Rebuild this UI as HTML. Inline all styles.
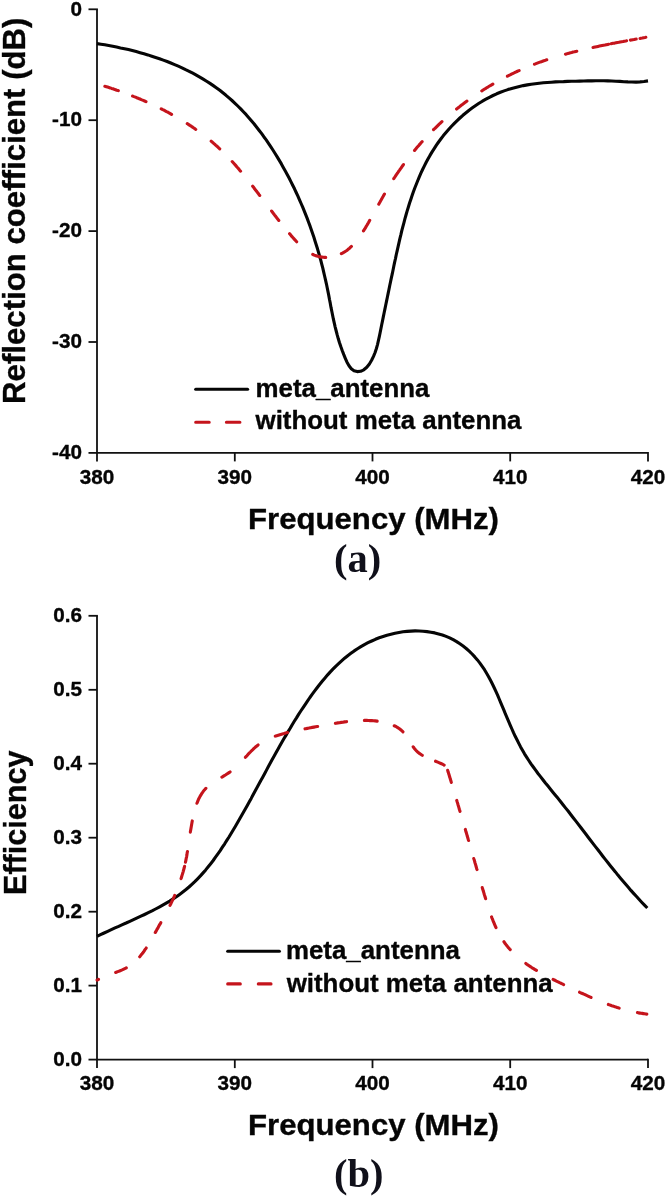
<!DOCTYPE html>
<html lang="en"><head><meta charset="utf-8"><title>Reflection coefficient and efficiency</title>
<style>html,body{margin:0;padding:0;background:#fff}body{width:666px;height:1201px;overflow:hidden}svg{display:block}</style>
</head><body>
<svg width="666" height="1201" viewBox="0 0 666 1201">
<style>
text{font-family:"Liberation Sans",Arial,Helvetica,sans-serif;font-weight:bold;fill:#050505;stroke:#050505;stroke-width:0.35px;stroke-linejoin:round}
.tk{font-size:20.7px}
.lg{font-size:26px}
.ax{font-size:30px}
.ay{font-size:30.6px}
.cap{font-family:"Liberation Serif","Times New Roman",serif;font-weight:bold;font-size:40.5px;fill:#10101a;stroke:none}
.k{fill:none;stroke:#050505;stroke-width:3.1;stroke-linejoin:round}
.r{fill:none;stroke:#c5141c;stroke-width:3.1;stroke-linecap:round;stroke-linejoin:round}
.lk{stroke-linecap:round}
</style>
<rect width="666" height="1201" fill="#fff"/>
<path d="M97.0 9.3 V452.9 H648.0" fill="none" stroke="#111" stroke-width="1.8" stroke-linejoin="miter"/>
<path d="M88.5 9.3 H97.9" stroke="#111" stroke-width="1.8"/>
<text class="tk" x="82.0" y="15.5" text-anchor="end">0</text>
<path d="M88.5 120.2 H97.0" stroke="#111" stroke-width="1.8"/>
<text class="tk" x="82.0" y="126.4" text-anchor="end">-10</text>
<path d="M88.5 231.1 H97.0" stroke="#111" stroke-width="1.8"/>
<text class="tk" x="82.0" y="237.3" text-anchor="end">-20</text>
<path d="M88.5 342.0 H97.0" stroke="#111" stroke-width="1.8"/>
<text class="tk" x="82.0" y="348.2" text-anchor="end">-30</text>
<path d="M88.5 452.9 H97.0" stroke="#111" stroke-width="1.8"/>
<text class="tk" x="82.0" y="459.1" text-anchor="end">-40</text>
<path d="M97.0 452.9 V461.4" stroke="#111" stroke-width="1.8"/>
<text class="tk" x="97.0" y="483.6" text-anchor="middle">380</text>
<path d="M234.8 452.9 V461.4" stroke="#111" stroke-width="1.8"/>
<text class="tk" x="234.8" y="483.6" text-anchor="middle">390</text>
<path d="M372.5 452.9 V461.4" stroke="#111" stroke-width="1.8"/>
<text class="tk" x="372.5" y="483.6" text-anchor="middle">400</text>
<path d="M510.2 452.9 V461.4" stroke="#111" stroke-width="1.8"/>
<text class="tk" x="510.2" y="483.6" text-anchor="middle">410</text>
<path d="M648.0 452.0 V461.4" stroke="#111" stroke-width="1.8"/>
<text class="tk" x="648.0" y="483.6" text-anchor="middle">420</text>

<path class="k" d="M97.0 43.6 L100.9 44.2 L104.8 44.8 L108.7 45.5 L112.7 46.3 L116.6 47.0 L120.5 47.9 L124.5 48.7 L128.4 49.6 L132.3 50.6 L136.2 51.6 L140.1 52.7 L144.0 53.8 L147.9 54.9 L151.8 56.2 L155.6 57.4 L159.5 58.7 L163.3 60.1 L167.1 61.5 L170.8 63.0 L174.6 64.6 L178.3 66.2 L182.0 67.8 L185.6 69.6 L189.2 71.3 L192.8 73.2 L196.3 75.1 L199.8 77.1 L203.2 79.1 L206.6 81.2 L210.0 83.4 L213.3 85.6 L216.6 87.9 L219.8 90.3 L222.9 92.8 L226.0 95.3 L229.0 97.9 L232.0 100.5 L235.0 103.3 L237.8 106.0 L240.7 108.9 L243.4 111.8 L246.2 114.7 L248.8 117.7 L251.4 120.8 L254.0 123.8 L256.5 127.0 L259.0 130.2 L261.5 133.4 L263.8 136.7 L266.2 139.9 L268.5 143.3 L270.7 146.6 L272.9 150.0 L275.1 153.5 L277.2 156.9 L279.3 160.4 L281.4 163.9 L283.3 167.4 L285.3 170.9 L287.2 174.4 L289.1 178.0 L290.9 181.6 L292.7 185.2 L294.5 188.8 L296.2 192.5 L297.9 196.1 L299.5 199.8 L301.1 203.5 L302.7 207.2 L304.2 210.9 L305.7 214.6 L307.2 218.4 L308.6 222.2 L310.0 225.9 L311.3 229.7 L312.6 233.5 L313.9 237.3 L315.1 241.2 L316.3 245.0 L317.5 248.8 L318.6 252.7 L319.7 256.5 L320.8 260.4 L321.8 264.3 L322.8 268.2 L323.7 272.1 L324.6 276.0 L325.5 279.9 L326.4 283.8 L327.2 287.7 L328.0 291.6 L328.8 295.6 L329.5 299.5 L330.3 303.4 L331.0 307.4 L331.8 311.3 L332.6 315.2 L333.4 319.2 L334.3 323.1 L335.2 327.1 L336.2 331.0 L337.2 334.9 L338.3 338.8 L339.5 342.7 L340.8 346.6 L342.2 350.5 L343.7 354.4 L345.3 358.3 L347.0 362.2 L349.0 365.7 L351.3 368.7 L354.0 370.7 L357.2 371.6 L360.6 371.3 L363.8 369.8 L366.8 367.3 L369.4 364.0 L371.6 360.3 L373.5 356.4 L375.1 352.5 L376.4 348.5 L377.5 344.6 L378.4 340.6 L379.3 336.6 L380.1 332.7 L380.9 328.7 L381.7 324.8 L382.5 320.9 L383.3 316.9 L384.1 313.0 L384.9 309.1 L385.7 305.3 L386.5 301.4 L387.3 297.5 L388.1 293.6 L388.9 289.7 L389.7 285.8 L390.5 282.0 L391.3 278.1 L392.2 274.2 L393.0 270.3 L393.8 266.3 L394.6 262.4 L395.5 258.5 L396.3 254.5 L397.2 250.6 L398.1 246.6 L399.0 242.6 L399.9 238.7 L400.9 234.7 L401.8 230.7 L402.8 226.8 L403.9 222.8 L404.9 218.9 L406.0 215.0 L407.1 211.1 L408.3 207.2 L409.5 203.3 L410.8 199.4 L412.1 195.6 L413.4 191.8 L414.8 188.0 L416.3 184.2 L417.8 180.5 L419.3 176.8 L420.9 173.1 L422.6 169.5 L424.4 165.9 L426.2 162.3 L428.1 158.8 L430.0 155.4 L432.1 151.9 L434.2 148.6 L436.4 145.2 L438.6 142.0 L441.0 138.8 L443.4 135.6 L446.0 132.5 L448.6 129.5 L451.3 126.5 L454.1 123.6 L456.9 120.8 L459.9 118.0 L462.9 115.3 L466.0 112.7 L469.1 110.2 L472.4 107.8 L475.7 105.5 L479.0 103.3 L482.4 101.2 L485.9 99.2 L489.4 97.3 L493.0 95.5 L496.7 93.8 L500.4 92.3 L504.1 90.9 L507.9 89.6 L511.7 88.4 L515.5 87.4 L519.4 86.4 L523.3 85.6 L527.3 84.9 L531.2 84.2 L535.2 83.7 L539.2 83.2 L543.3 82.8 L547.3 82.5 L551.4 82.2 L555.4 81.9 L559.5 81.7 L563.5 81.6 L567.6 81.4 L571.7 81.3 L575.7 81.2 L579.7 81.1 L583.8 81.0 L587.8 80.9 L591.8 80.9 L595.8 80.8 L599.8 80.8 L603.8 80.8 L607.8 80.9 L611.8 81.0 L615.8 81.2 L619.9 81.4 L623.9 81.7 L627.9 81.9 L631.9 82.0 L636.0 82.1 L640.0 81.9 L644.0 81.5 L648.0 80.9"/>
<path class="r" stroke-dasharray="14.2 15.2 14.6 16.8 11.8 18.2 10.3 19.4 11.5 17.8 12.8 19.3 11.6 19.6 11.9 17.1 10.7 20.5 13.5 16.2 12.5 19.7 12.3 18.5 11.7 17.9 17.1 18.0 11.6 16.6 11.6 19.4 13.0 18.0 13.0 16.6 13.0 16.6 13.1 19.5 11.7 16.7 15.9 2.5 15.8 3.9 5.9 3.9 5.9 3000.0" stroke-dashoffset="-8.1" d="M97.1 83.9 L98.4 84.2 L99.7 84.6 L101.0 85.0 L102.4 85.4 L103.7 85.8 L105.0 86.3 L106.3 86.7 L107.6 87.1 L108.9 87.5 L110.2 87.9 L111.6 88.4 L112.9 88.8 L114.2 89.3 L115.5 89.7 L116.8 90.2 L118.2 90.6 L119.5 91.1 L120.8 91.6 L122.1 92.1 L123.5 92.5 L124.8 93.0 L126.1 93.5 L127.4 94.0 L128.8 94.5 L130.1 95.0 L131.4 95.6 L132.7 96.1 L134.0 96.6 L135.4 97.1 L136.7 97.7 L138.0 98.2 L139.3 98.8 L140.6 99.3 L141.9 99.9 L143.2 100.4 L144.6 101.0 L145.9 101.6 L147.2 102.2 L148.5 102.7 L149.8 103.3 L151.1 103.9 L152.4 104.5 L153.7 105.2 L155.0 105.8 L156.3 106.4 L157.6 107.0 L158.8 107.6 L160.1 108.3 L161.4 108.9 L162.7 109.6 L164.0 110.2 L165.2 110.9 L166.5 111.6 L167.8 112.2 L169.0 112.9 L170.3 113.6 L171.5 114.3 L172.8 115.0 L174.0 115.7 L175.3 116.4 L176.5 117.1 L177.8 117.8 L179.0 118.5 L180.2 119.3 L181.4 120.0 L182.7 120.8 L183.9 121.5 L185.1 122.3 L186.3 123.0 L187.5 123.8 L188.7 124.6 L189.9 125.4 L191.1 126.1 L192.2 126.9 L193.4 127.7 L194.6 128.5 L195.7 129.4 L196.9 130.2 L198.1 131.0 L199.2 131.8 L200.3 132.7 L201.5 133.5 L202.6 134.4 L203.7 135.2 L204.8 136.1 L205.9 136.9 L207.1 137.8 L208.1 138.7 L209.2 139.6 L210.3 140.5 L211.4 141.4 L212.5 142.3 L213.5 143.2 L214.6 144.1 L215.6 145.1 L216.7 146.0 L217.7 146.9 L218.7 147.9 L219.7 148.8 L220.7 149.8 L221.7 150.8 L222.7 151.7 L223.7 152.7 L224.7 153.7 L225.7 154.7 L226.7 155.7 L227.6 156.7 L228.6 157.7 L229.5 158.7 L230.5 159.7 L231.4 160.7 L232.4 161.8 L233.3 162.8 L234.2 163.8 L235.2 164.9 L236.1 165.9 L237.0 167.0 L237.9 168.0 L238.8 169.1 L239.7 170.2 L240.6 171.2 L241.5 172.3 L242.4 173.4 L243.3 174.4 L244.2 175.5 L245.1 176.6 L245.9 177.7 L246.8 178.8 L247.7 179.9 L248.6 181.0 L249.4 182.1 L250.3 183.2 L251.2 184.3 L252.0 185.4 L252.9 186.5 L253.8 187.6 L254.6 188.8 L255.5 189.9 L256.4 191.0 L257.2 192.1 L258.1 193.3 L258.9 194.4 L259.8 195.5 L260.6 196.6 L261.5 197.8 L262.4 198.9 L263.2 200.0 L264.1 201.2 L264.9 202.3 L265.8 203.4 L266.7 204.6 L267.5 205.7 L268.4 206.9 L269.3 208.0 L270.1 209.1 L271.0 210.3 L271.9 211.4 L272.7 212.6 L273.6 213.7 L274.5 214.9 L275.4 216.0 L276.2 217.1 L277.1 218.3 L278.0 219.4 L278.9 220.6 L279.8 221.7 L280.7 222.8 L281.6 224.0 L282.5 225.1 L283.4 226.2 L284.3 227.4 L285.3 228.5 L286.2 229.6 L287.1 230.8 L288.1 231.9 L289.0 233.0 L289.9 234.1 L290.9 235.3 L291.8 236.4 L292.8 237.5 L293.8 238.6 L294.7 239.7 L295.7 240.7 L296.7 241.8 L297.7 242.9 L298.7 243.9 L299.8 244.9 L300.8 245.9 L301.8 246.8 L302.9 247.8 L304.0 248.7 L305.0 249.5 L306.1 250.4 L307.2 251.2 L308.4 251.9 L309.5 252.6 L310.7 253.3 L311.8 253.9 L313.0 254.5 L314.2 255.1 L315.4 255.5 L316.7 256.0 L318.0 256.3 L319.2 256.7 L320.5 256.9 L321.9 257.1 L323.2 257.3 L324.5 257.4 L325.9 257.4 L327.3 257.3 L328.6 257.3 L330.0 257.1 L331.4 256.9 L332.7 256.7 L334.1 256.4 L335.4 256.0 L336.7 255.6 L338.0 255.2 L339.3 254.7 L340.5 254.1 L341.8 253.5 L342.9 252.9 L344.1 252.2 L345.2 251.5 L346.4 250.7 L347.5 249.9 L348.5 249.0 L349.6 248.2 L350.6 247.2 L351.6 246.3 L352.6 245.3 L353.5 244.3 L354.5 243.3 L355.4 242.2 L356.3 241.1 L357.2 240.0 L358.1 238.9 L358.9 237.7 L359.8 236.5 L360.6 235.4 L361.4 234.1 L362.2 232.9 L363.0 231.7 L363.8 230.4 L364.6 229.2 L365.4 227.9 L366.1 226.6 L366.9 225.3 L367.6 224.1 L368.4 222.8 L369.1 221.5 L369.8 220.2 L370.5 218.9 L371.3 217.6 L372.0 216.3 L372.7 215.1 L373.4 213.8 L374.1 212.5 L374.8 211.3 L375.5 210.0 L376.2 208.7 L376.9 207.5 L377.6 206.2 L378.3 205.0 L379.0 203.7 L379.7 202.5 L380.4 201.2 L381.1 200.0 L381.8 198.7 L382.5 197.5 L383.2 196.3 L383.9 195.0 L384.6 193.8 L385.3 192.6 L386.0 191.4 L386.7 190.2 L387.5 189.0 L388.2 187.8 L388.9 186.5 L389.6 185.3 L390.4 184.2 L391.1 183.0 L391.8 181.8 L392.6 180.6 L393.3 179.4 L394.1 178.2 L394.9 177.0 L395.6 175.9 L396.4 174.7 L397.2 173.5 L398.0 172.4 L398.8 171.2 L399.6 170.1 L400.4 168.9 L401.2 167.8 L402.0 166.6 L402.8 165.5 L403.6 164.4 L404.5 163.2 L405.3 162.1 L406.2 161.0 L407.0 159.9 L407.9 158.7 L408.7 157.6 L409.6 156.5 L410.5 155.4 L411.3 154.3 L412.2 153.2 L413.1 152.1 L414.0 151.1 L414.9 150.0 L415.8 148.9 L416.7 147.8 L417.6 146.8 L418.6 145.7 L419.5 144.6 L420.4 143.6 L421.3 142.5 L422.3 141.5 L423.2 140.4 L424.2 139.4 L425.1 138.4 L426.1 137.3 L427.1 136.3 L428.0 135.3 L429.0 134.3 L430.0 133.2 L431.0 132.2 L432.0 131.2 L433.0 130.2 L434.0 129.2 L435.0 128.3 L436.0 127.3 L437.0 126.3 L438.0 125.3 L439.0 124.3 L440.1 123.4 L441.1 122.4 L442.1 121.5 L443.2 120.5 L444.2 119.6 L445.3 118.6 L446.3 117.7 L447.4 116.8 L448.4 115.8 L449.5 114.9 L450.6 114.0 L451.7 113.1 L452.8 112.2 L453.8 111.3 L454.9 110.4 L456.0 109.5 L457.1 108.6 L458.2 107.7 L459.3 106.9 L460.4 106.0 L461.6 105.1 L462.7 104.3 L463.8 103.4 L464.9 102.6 L466.1 101.7 L467.2 100.9 L468.4 100.1 L469.5 99.2 L470.6 98.4 L471.8 97.6 L473.0 96.8 L474.1 96.0 L475.3 95.2 L476.5 94.4 L477.6 93.6 L478.8 92.8 L480.0 92.0 L481.2 91.3 L482.4 90.5 L483.5 89.8 L484.7 89.0 L485.9 88.3 L487.1 87.5 L488.3 86.8 L489.6 86.0 L490.8 85.3 L492.0 84.6 L493.2 83.9 L494.4 83.2 L495.7 82.5 L496.9 81.8 L498.1 81.1 L499.4 80.4 L500.6 79.7 L501.8 79.1 L503.1 78.4 L504.3 77.8 L505.6 77.1 L506.8 76.5 L508.1 75.8 L509.4 75.2 L510.6 74.6 L511.9 73.9 L513.2 73.3 L514.5 72.7 L515.7 72.1 L517.0 71.5 L518.3 70.9 L519.6 70.4 L520.9 69.8 L522.2 69.2 L523.5 68.7 L524.8 68.1 L526.1 67.6 L527.4 67.0 L528.7 66.5 L530.0 65.9 L531.3 65.4 L532.6 64.9 L533.9 64.4 L535.3 63.9 L536.6 63.4 L537.9 62.9 L539.2 62.4 L540.6 61.9 L541.9 61.5 L543.2 61.0 L544.6 60.6 L545.9 60.1 L547.3 59.7 L548.6 59.2 L550.0 58.8 L551.3 58.3 L552.7 57.9 L554.0 57.5 L555.4 57.1 L556.7 56.7 L558.1 56.3 L559.4 55.9 L560.8 55.5 L562.2 55.1 L563.5 54.7 L564.9 54.3 L566.3 53.9 L567.6 53.6 L569.0 53.2 L570.4 52.8 L571.7 52.5 L573.1 52.1 L574.5 51.8 L575.9 51.4 L577.2 51.1 L578.6 50.8 L580.0 50.4 L581.4 50.1 L582.8 49.8 L584.1 49.4 L585.5 49.1 L586.9 48.8 L588.3 48.5 L589.7 48.2 L591.1 47.9 L592.5 47.6 L593.8 47.3 L595.2 47.0 L596.6 46.7 L598.0 46.4 L599.4 46.1 L600.8 45.8 L602.2 45.5 L603.6 45.2 L604.9 45.0 L606.3 44.7 L607.7 44.4 L609.1 44.1 L610.5 43.9 L611.9 43.6 L613.3 43.3 L614.7 43.1 L616.1 42.8 L617.4 42.5 L618.8 42.3 L620.2 42.0 L621.6 41.7 L623.0 41.5 L624.4 41.2 L625.8 41.0 L627.1 40.7 L628.5 40.5 L629.9 40.2 L631.3 40.0 L632.7 39.7 L634.0 39.5 L635.4 39.2 L636.8 39.0 L638.2 38.7 L639.6 38.5 L640.9 38.2 L642.3 38.0 L643.7 37.7 L645.0 37.5 L646.4 37.2 L647.8 37.0"/>
<path class="k lk" d="M195.7 389.3H247.6"/>
<path class="r" d="M195.7 422.2H209.2M226.4 422.2H239.9"/>
<text class="lg" x="255.5" y="397.3" textLength="174" lengthAdjust="spacingAndGlyphs">meta_antenna</text>
<text class="lg" x="255.5" y="429.3" textLength="266" lengthAdjust="spacingAndGlyphs">without meta antenna</text>
<text class="ax" x="248" y="529.3" textLength="251" lengthAdjust="spacingAndGlyphs">Frequency (MHz)</text>
<text class="ay" transform="translate(24.9 404) rotate(-90)" textLength="386.5" lengthAdjust="spacingAndGlyphs">Reflection coefficient (dB)</text>
<text class="cap" x="334" y="571.6">(a)</text>
<path d="M97.0 615.8 V1059.6 H648.0" fill="none" stroke="#111" stroke-width="1.8" stroke-linejoin="miter"/>
<path d="M88.5 615.8 H97.9" stroke="#111" stroke-width="1.8"/>
<text class="tk" x="82.0" y="622.0" text-anchor="end">0.6</text>
<path d="M88.5 689.8 H97.0" stroke="#111" stroke-width="1.8"/>
<text class="tk" x="82.0" y="696.0" text-anchor="end">0.5</text>
<path d="M88.5 763.7 H97.0" stroke="#111" stroke-width="1.8"/>
<text class="tk" x="82.0" y="769.9" text-anchor="end">0.4</text>
<path d="M88.5 837.7 H97.0" stroke="#111" stroke-width="1.8"/>
<text class="tk" x="82.0" y="843.9" text-anchor="end">0.3</text>
<path d="M88.5 911.7 H97.0" stroke="#111" stroke-width="1.8"/>
<text class="tk" x="82.0" y="917.9" text-anchor="end">0.2</text>
<path d="M88.5 985.6 H97.0" stroke="#111" stroke-width="1.8"/>
<text class="tk" x="82.0" y="991.8" text-anchor="end">0.1</text>
<path d="M88.5 1059.6 H97.0" stroke="#111" stroke-width="1.8"/>
<text class="tk" x="82.0" y="1065.8" text-anchor="end">0.0</text>
<path d="M97.0 1059.6 V1068.1" stroke="#111" stroke-width="1.8"/>
<text class="tk" x="97.0" y="1090.0" text-anchor="middle">380</text>
<path d="M234.8 1059.6 V1068.1" stroke="#111" stroke-width="1.8"/>
<text class="tk" x="234.8" y="1090.0" text-anchor="middle">390</text>
<path d="M372.5 1059.6 V1068.1" stroke="#111" stroke-width="1.8"/>
<text class="tk" x="372.5" y="1090.0" text-anchor="middle">400</text>
<path d="M510.2 1059.6 V1068.1" stroke="#111" stroke-width="1.8"/>
<text class="tk" x="510.2" y="1090.0" text-anchor="middle">410</text>
<path d="M648.0 1058.7 V1068.1" stroke="#111" stroke-width="1.8"/>
<text class="tk" x="648.0" y="1090.0" text-anchor="middle">420</text>

<path class="k" d="M97.0 936.4 L100.5 934.7 L104.1 933.0 L107.7 931.3 L111.3 929.6 L115.0 927.9 L118.7 926.3 L122.4 924.6 L126.1 923.0 L129.8 921.3 L133.5 919.6 L137.2 917.9 L140.9 916.2 L144.6 914.5 L148.3 912.7 L152.0 910.9 L155.6 909.0 L159.2 907.1 L162.7 905.2 L166.2 903.2 L169.7 901.1 L173.1 898.9 L176.4 896.7 L179.6 894.4 L182.8 892.0 L186.0 889.5 L189.0 887.0 L191.9 884.3 L194.8 881.6 L197.6 878.8 L200.4 875.9 L203.1 872.9 L205.7 869.9 L208.2 866.8 L210.7 863.7 L213.2 860.5 L215.5 857.2 L217.9 853.9 L220.2 850.6 L222.4 847.2 L224.7 843.8 L226.8 840.4 L229.0 837.0 L231.1 833.5 L233.2 830.0 L235.3 826.5 L237.3 823.0 L239.3 819.5 L241.3 816.0 L243.3 812.5 L245.3 809.0 L247.3 805.4 L249.2 801.9 L251.2 798.4 L253.1 794.8 L255.0 791.3 L256.9 787.8 L258.8 784.3 L260.7 780.7 L262.7 777.2 L264.6 773.7 L266.5 770.1 L268.4 766.6 L270.3 763.1 L272.2 759.6 L274.2 756.1 L276.1 752.6 L278.1 749.1 L280.0 745.6 L282.0 742.1 L284.0 738.6 L286.1 735.1 L288.1 731.6 L290.2 728.2 L292.2 724.7 L294.3 721.3 L296.5 717.9 L298.6 714.4 L300.8 711.0 L303.1 707.6 L305.3 704.3 L307.6 700.9 L309.9 697.5 L312.3 694.2 L314.7 690.9 L317.1 687.7 L319.6 684.5 L322.2 681.3 L324.8 678.2 L327.4 675.1 L330.1 672.1 L332.9 669.2 L335.7 666.3 L338.6 663.6 L341.6 660.9 L344.6 658.2 L347.7 655.7 L350.9 653.3 L354.2 650.9 L357.5 648.7 L360.9 646.6 L364.4 644.6 L368.0 642.7 L371.7 641.0 L375.4 639.3 L379.2 637.8 L383.1 636.5 L387.0 635.2 L391.0 634.2 L395.0 633.2 L399.0 632.5 L403.0 631.8 L407.0 631.4 L411.1 631.1 L415.1 630.9 L419.1 631.0 L423.1 631.2 L427.0 631.6 L430.9 632.2 L434.8 632.9 L438.6 633.9 L442.4 635.0 L446.1 636.4 L449.7 637.9 L453.2 639.7 L456.6 641.6 L459.9 643.8 L463.1 646.1 L466.2 648.5 L469.2 651.2 L472.1 654.0 L474.8 656.9 L477.4 659.9 L479.9 663.1 L482.2 666.4 L484.5 669.7 L486.6 673.2 L488.6 676.7 L490.5 680.3 L492.4 684.0 L494.2 687.7 L495.9 691.4 L497.6 695.2 L499.2 699.0 L500.8 702.8 L502.4 706.6 L504.0 710.4 L505.5 714.2 L507.1 717.9 L508.7 721.6 L510.3 725.3 L511.9 729.0 L513.5 732.7 L515.2 736.3 L517.0 739.8 L518.8 743.4 L520.6 746.9 L522.5 750.3 L524.5 753.8 L526.6 757.1 L528.8 760.5 L531.0 763.8 L533.3 767.0 L535.6 770.2 L538.0 773.5 L540.5 776.6 L542.9 779.8 L545.4 783.0 L548.0 786.1 L550.5 789.2 L553.1 792.4 L555.6 795.5 L558.2 798.6 L560.7 801.8 L563.2 805.0 L565.7 808.1 L568.3 811.3 L570.7 814.5 L573.2 817.7 L575.7 820.9 L578.2 824.1 L580.6 827.3 L583.1 830.5 L585.6 833.8 L588.0 837.0 L590.5 840.2 L592.9 843.4 L595.4 846.6 L597.9 849.8 L600.4 853.0 L602.8 856.2 L605.3 859.4 L607.8 862.5 L610.3 865.7 L612.8 868.8 L615.4 871.9 L617.9 875.1 L620.5 878.2 L623.1 881.2 L625.7 884.3 L628.3 887.3 L630.9 890.4 L633.6 893.4 L636.3 896.3 L639.0 899.3 L641.7 902.2 L644.5 905.1 L647.3 908.0"/>
<path class="r" stroke-dasharray="1.6 18.5 11.6 17.5 10.9 18.0 11.2 19.6 11.1 17.9 12.8 4.2 11.0 19.5 11.4 18.3 17.6 19.6 9.7 21.2 17.7 19.5 12.8 17.8 12.9 18.0 11.3 17.9 12.8 17.8 10.7 18.1 12.6 14.6 9.4 6.7 12.7 18.8 11.5 18.8 11.5 18.8 11.5 18.8 11.6 19.1 11.6 16.3 10.1 20.9 12.7 19.0 11.7 17.7 12.6 18.7 11.4 18.9 9.5 3000.0" stroke-dashoffset="-0.0" d="M97.1 980.1 L98.5 979.3 L99.9 978.6 L101.4 977.9 L103.0 977.2 L104.6 976.5 L106.2 975.9 L107.8 975.3 L109.4 974.7 L111.1 974.1 L112.8 973.5 L114.5 972.9 L116.1 972.3 L117.8 971.6 L119.5 971.0 L121.1 970.3 L122.7 969.6 L124.3 968.8 L125.8 968.1 L127.3 967.2 L128.8 966.3 L130.2 965.4 L131.5 964.4 L132.9 963.4 L134.1 962.3 L135.4 961.2 L136.6 960.1 L137.7 958.9 L138.9 957.7 L140.0 956.4 L141.0 955.1 L142.1 953.8 L143.1 952.5 L144.1 951.1 L145.0 949.7 L146.0 948.3 L146.9 946.9 L147.8 945.5 L148.7 944.0 L149.6 942.5 L150.4 941.1 L151.3 939.6 L152.2 938.1 L153.0 936.6 L153.8 935.1 L154.7 933.6 L155.5 932.1 L156.4 930.6 L157.2 929.1 L158.1 927.6 L158.9 926.1 L159.7 924.6 L160.6 923.1 L161.4 921.6 L162.2 920.1 L163.1 918.6 L163.9 917.1 L164.7 915.6 L165.5 914.1 L166.3 912.6 L167.1 911.1 L167.9 909.6 L168.7 908.0 L169.5 906.5 L170.2 905.0 L171.0 903.5 L171.7 901.9 L172.4 900.4 L173.2 898.9 L173.9 897.3 L174.6 895.7 L175.2 894.2 L175.9 892.6 L176.6 891.0 L177.2 889.4 L177.8 887.8 L178.4 886.2 L179.0 884.6 L179.6 883.0 L180.2 881.4 L180.7 879.8 L181.2 878.2 L181.7 876.5 L182.2 874.9 L182.7 873.3 L183.2 871.6 L183.6 870.0 L184.1 868.3 L184.5 866.7 L184.9 865.1 L185.2 863.4 L185.6 861.7 L185.9 860.1 L186.2 858.4 L186.6 856.8 L186.9 855.1 L187.1 853.4 L187.4 851.8 L187.7 850.1 L187.9 848.4 L188.2 846.8 L188.5 845.1 L188.7 843.4 L188.9 841.7 L189.2 840.0 L189.4 838.3 L189.7 836.7 L189.9 835.0 L190.2 833.3 L190.4 831.6 L190.7 829.9 L191.0 828.2 L191.3 826.5 L191.6 824.8 L191.9 823.0 L192.2 821.3 L192.5 819.6 L192.9 817.9 L193.2 816.2 L193.6 814.5 L194.0 812.7 L194.5 811.0 L194.9 809.4 L195.4 807.7 L196.0 806.0 L196.5 804.4 L197.1 802.8 L197.8 801.2 L198.4 799.6 L199.2 798.1 L199.9 796.6 L200.8 795.2 L201.6 793.7 L202.6 792.4 L203.5 791.0 L204.6 789.8 L205.7 788.5 L206.9 787.4 L208.1 786.2 L209.4 785.2 L210.7 784.1 L212.1 783.1 L213.5 782.2 L214.9 781.2 L216.4 780.3 L217.9 779.4 L219.4 778.5 L220.9 777.6 L222.4 776.8 L223.9 775.9 L225.4 775.0 L226.9 774.0 L228.3 773.1 L229.8 772.1 L231.2 771.1 L232.5 770.1 L233.9 769.0 L235.2 767.9 L236.4 766.7 L237.6 765.6 L238.8 764.4 L240.0 763.2 L241.2 761.9 L242.3 760.7 L243.5 759.4 L244.6 758.2 L245.8 756.9 L246.9 755.7 L248.0 754.4 L249.2 753.2 L250.4 752.0 L251.5 750.8 L252.8 749.6 L254.0 748.4 L255.2 747.3 L256.5 746.2 L257.8 745.2 L259.2 744.2 L260.5 743.2 L261.9 742.2 L263.4 741.3 L264.8 740.5 L266.3 739.7 L267.8 739.0 L269.4 738.3 L271.0 737.7 L272.6 737.1 L274.2 736.5 L275.8 735.9 L277.5 735.4 L279.1 734.9 L280.7 734.4 L282.4 733.9 L284.0 733.5 L285.6 733.0 L287.3 732.6 L288.9 732.2 L290.6 731.8 L292.2 731.4 L293.9 731.0 L295.6 730.7 L297.2 730.3 L298.9 730.0 L300.6 729.6 L302.2 729.3 L303.9 729.0 L305.6 728.7 L307.3 728.4 L308.9 728.1 L310.6 727.7 L312.3 727.4 L314.0 727.1 L315.7 726.8 L317.4 726.5 L319.1 726.2 L320.8 725.9 L322.5 725.6 L324.2 725.3 L325.9 725.0 L327.5 724.7 L329.2 724.4 L331.0 724.1 L332.7 723.8 L334.4 723.5 L336.1 723.2 L337.8 722.9 L339.5 722.7 L341.2 722.4 L342.9 722.2 L344.6 721.9 L346.3 721.7 L348.0 721.5 L349.7 721.3 L351.4 721.1 L353.1 721.0 L354.8 720.8 L356.5 720.7 L358.2 720.6 L359.9 720.5 L361.6 720.5 L363.3 720.4 L365.0 720.4 L366.7 720.4 L368.4 720.5 L370.1 720.6 L371.8 720.6 L373.5 720.8 L375.2 720.9 L376.9 721.1 L378.6 721.4 L380.3 721.6 L382.0 721.9 L383.7 722.2 L385.3 722.6 L387.0 723.0 L388.6 723.5 L390.2 724.0 L391.8 724.6 L393.3 725.3 L394.8 726.0 L396.3 726.7 L397.7 727.6 L399.1 728.5 L400.4 729.5 L401.6 730.5 L402.8 731.7 L404.0 732.9 L405.0 734.2 L406.0 735.6 L407.0 737.0 L407.9 738.5 L408.9 740.0 L409.8 741.5 L410.7 743.0 L411.6 744.4 L412.6 745.9 L413.5 747.3 L414.6 748.7 L415.7 750.0 L416.8 751.2 L418.0 752.3 L419.3 753.4 L420.7 754.3 L422.1 755.2 L423.5 756.1 L425.1 756.8 L426.6 757.6 L428.2 758.3 L429.8 758.9 L431.4 759.6 L433.0 760.2 L434.6 760.8 L436.2 761.5 L437.8 762.1 L439.4 762.8 L440.9 763.5 L442.4 764.2 L443.9 765.0 L445.3 765.9 L446.7 766.8 L447.0 768.2 L447.4 769.3 L447.7 770.4 L448.0 771.6 L448.4 772.7 L448.7 773.8 L449.1 774.9 L449.4 776.0 L449.7 777.1 L450.1 778.2 L450.4 779.4 L450.8 780.5 L451.1 781.6 L451.4 782.7 L451.8 783.8 L452.1 784.9 L452.4 786.1 L452.8 787.2 L453.1 788.3 L453.4 789.4 L453.8 790.5 L454.1 791.6 L454.5 792.8 L454.8 793.9 L455.1 795.0 L455.5 796.1 L455.8 797.2 L456.1 798.3 L456.5 799.5 L456.8 800.6 L457.1 801.7 L457.5 802.8 L457.8 803.9 L458.1 805.0 L458.5 806.2 L458.8 807.3 L459.1 808.4 L459.4 809.5 L459.8 810.6 L460.1 811.8 L460.4 812.9 L460.8 814.0 L461.1 815.1 L461.4 816.2 L461.8 817.3 L462.1 818.5 L462.4 819.6 L462.8 820.7 L463.1 821.8 L463.4 822.9 L463.7 824.0 L464.1 825.2 L464.4 826.3 L464.7 827.4 L465.1 828.5 L465.4 829.6 L465.7 830.8 L466.0 831.9 L466.4 833.0 L466.7 834.1 L467.0 835.2 L467.3 836.3 L467.7 837.5 L468.0 838.6 L468.3 839.7 L468.7 840.8 L469.0 841.9 L469.3 843.0 L469.6 844.2 L470.0 845.3 L470.3 846.4 L470.6 847.5 L470.9 848.6 L471.3 849.8 L471.6 850.9 L471.9 852.0 L472.2 853.1 L472.5 854.2 L472.9 855.3 L473.2 856.5 L473.5 857.6 L473.8 858.7 L474.2 859.8 L474.5 860.9 L474.8 862.0 L475.1 863.2 L475.5 864.3 L475.8 865.4 L476.1 866.5 L476.4 867.6 L476.7 868.7 L477.1 869.9 L477.4 871.0 L477.7 872.1 L478.0 873.2 L478.4 874.3 L478.7 875.5 L479.0 876.6 L479.3 877.7 L479.7 878.8 L480.0 879.9 L480.3 881.0 L480.7 882.2 L481.0 883.3 L481.3 884.4 L481.6 885.5 L482.0 886.7 L482.3 887.8 L482.6 888.9 L483.0 890.0 L483.3 891.1 L483.7 892.3 L484.0 893.4 L484.3 894.5 L484.7 895.6 L485.0 896.8 L485.4 897.9 L485.7 899.0 L486.1 900.1 L486.4 901.3 L486.8 902.4 L487.1 903.5 L487.5 904.7 L487.8 905.8 L488.2 906.9 L488.6 908.0 L488.9 909.2 L489.3 910.3 L489.7 911.4 L490.1 912.5 L490.4 913.7 L490.8 914.8 L491.2 915.9 L491.6 917.0 L492.0 918.1 L492.5 919.2 L492.9 920.3 L493.3 921.4 L493.8 922.5 L494.2 923.5 L494.7 924.6 L495.1 925.7 L495.6 926.8 L496.1 927.8 L496.6 928.9 L497.1 929.9 L497.6 931.0 L498.1 932.0 L498.6 933.0 L499.2 934.0 L499.7 935.0 L500.3 936.0 L500.9 937.0 L501.5 938.0 L502.1 939.0 L502.7 939.9 L503.3 940.9 L504.0 941.8 L504.6 942.8 L505.3 943.7 L506.0 944.6 L506.7 945.5 L507.4 946.4 L508.1 947.3 L508.9 948.1 L509.6 949.0 L510.4 949.8 L511.2 950.7 L511.9 951.5 L512.7 952.3 L513.6 953.1 L514.4 953.9 L515.2 954.7 L516.0 955.5 L516.9 956.3 L517.8 957.1 L518.6 957.8 L519.5 958.6 L520.4 959.3 L521.3 960.0 L522.2 960.7 L523.1 961.4 L524.0 962.2 L524.9 962.8 L525.9 963.5 L526.8 964.2 L527.8 964.9 L528.7 965.5 L529.7 966.2 L530.7 966.8 L531.7 967.5 L532.6 968.1 L533.6 968.7 L534.6 969.3 L535.6 969.9 L536.6 970.5 L537.6 971.1 L538.7 971.7 L539.7 972.3 L540.7 972.9 L541.7 973.5 L542.8 974.0 L543.8 974.6 L544.8 975.2 L545.9 975.7 L546.9 976.3 L548.0 976.8 L549.0 977.4 L550.1 977.9 L551.1 978.4 L552.2 979.0 L553.2 979.5 L554.3 980.0 L555.4 980.5 L556.4 981.1 L557.5 981.6 L558.6 982.1 L559.6 982.6 L560.7 983.1 L561.7 983.7 L562.8 984.2 L563.9 984.7 L564.9 985.2 L566.0 985.7 L567.1 986.2 L568.1 986.7 L569.2 987.2 L570.2 987.7 L571.3 988.3 L572.3 988.8 L573.4 989.3 L574.5 989.8 L575.5 990.3 L576.6 990.8 L577.6 991.3 L578.7 991.8 L579.7 992.3 L580.8 992.8 L581.8 993.3 L582.9 993.7 L583.9 994.2 L585.0 994.7 L586.1 995.2 L587.1 995.7 L588.2 996.2 L589.2 996.6 L590.3 997.1 L591.3 997.6 L592.4 998.0 L593.5 998.5 L594.5 998.9 L595.6 999.4 L596.6 999.8 L597.7 1000.3 L598.8 1000.7 L599.8 1001.2 L600.9 1001.6 L602.0 1002.0 L603.1 1002.4 L604.1 1002.9 L605.2 1003.3 L606.3 1003.7 L607.4 1004.1 L608.4 1004.5 L609.5 1004.9 L610.6 1005.3 L611.7 1005.7 L612.8 1006.0 L613.9 1006.4 L615.0 1006.8 L616.1 1007.1 L617.2 1007.5 L618.3 1007.8 L619.4 1008.2 L620.5 1008.5 L621.6 1008.8 L622.7 1009.1 L623.8 1009.5 L625.0 1009.8 L626.1 1010.1 L627.2 1010.4 L628.4 1010.6 L629.5 1010.9 L630.6 1011.2 L631.8 1011.5 L632.9 1011.7 L634.1 1012.0 L635.2 1012.2 L636.4 1012.4 L637.5 1012.6 L638.7 1012.9 L639.9 1013.1 L641.1 1013.3 L642.2 1013.4 L643.4 1013.6 L644.6 1013.8 L645.8 1014.0 L647.0 1014.1 L648.2 1014.2"/>
<path class="k lk" d="M227.7 951.3H279.4"/>
<path class="r" d="M227.7 983.9H240.3M258.3 983.9H271"/>
<text class="lg" x="285.9" y="959.3" textLength="174" lengthAdjust="spacingAndGlyphs">meta_antenna</text>
<text class="lg" x="286.7" y="991.8" textLength="266" lengthAdjust="spacingAndGlyphs">without meta antenna</text>
<text class="ax" x="248" y="1135" textLength="251" lengthAdjust="spacingAndGlyphs">Frequency (MHz)</text>
<text class="ay" transform="translate(25.7 895) rotate(-90)" textLength="144.5" lengthAdjust="spacingAndGlyphs">Efficiency</text>
<text class="cap" x="334" y="1187.2">(b)</text>
</svg>
</body></html>
